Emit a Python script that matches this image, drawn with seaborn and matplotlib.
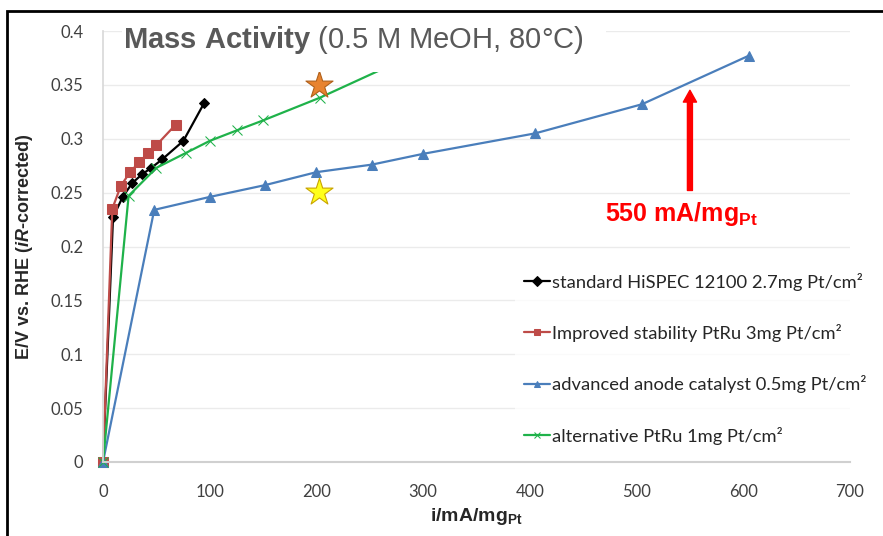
import matplotlib
matplotlib.use("Agg")
import matplotlib.pyplot as plt
import matplotlib.patches as mpatches
import seaborn as sns

# values
std_x = [0, 9.4, 18.4, 27.5, 36.6, 45.3, 55.6, 75.3, 94.7]
std_y = [0, 0.227, 0.246, 0.259, 0.267, 0.273, 0.281, 0.298, 0.333]
red_x = [0, 8.7, 16.6, 25.3, 33.8, 42.5, 50, 68]
red_y = [0, 0.235, 0.256, 0.269, 0.278, 0.287, 0.294, 0.313]
blue_x = [0, 48, 100, 152, 200, 252, 300, 405, 505, 605]
blue_y = [0, 0.234, 0.246, 0.257, 0.269, 0.276, 0.286, 0.305, 0.332, 0.377]
green_x = [0, 24, 50, 78, 100, 126, 150, 203, 300]
green_y = [0, 0.247, 0.273, 0.287, 0.298, 0.308, 0.317, 0.338, 0.382]

labels = ["standard HiSPEC 12100 2.7mg Pt/cm²",
          "Improved stability PtRu 3mg Pt/cm²",
          "advanced anode catalyst 0.5mg Pt/cm²",
          "alternative PtRu 1mg Pt/cm²"]

star_x = [202, 202]
star_y = [0.350, 0.251]
target_x = 550
arrow_y = [0.252, 0.345]

x_ticks = [0, 100, 200, 300, 400, 500, 600, 700]
y_ticks = [0, 0.05, 0.1, 0.15, 0.2, 0.25, 0.3, 0.35, 0.4]
y_ticklabels = ["0", "0.05", "0.1", "0.15", "0.2", "0.25", "0.3", "0.35", "0.4"]

sns.set_theme(style="white")
plt.rcParams["font.family"] = ["Liberation Sans", "DejaVu Sans"]
plt.rcParams["mathtext.fontset"] = "custom"
plt.rcParams["mathtext.rm"] = "Liberation Sans"
plt.rcParams["mathtext.bf"] = "Liberation Sans:bold"
plt.rcParams["mathtext.it"] = "Liberation Sans:bold:italic"

fig = plt.figure(figsize=(8.83, 5.36), dpi=100)
ax = fig.add_axes([103 / 883, 74 / 536, 747 / 883, 431 / 536])

series = [
    (std_x, std_y, "black", "D", 5.5),
    (red_x, red_y, "#be4b48", "s", 7),
    (blue_x, blue_y, "#4a7ebb", "^", 7),
    (green_x, green_y, "#1fb24a", "x", 7),
]
for (xs, ys, col, mk, ms), lab in zip(series, labels):
    sns.lineplot(x=xs, y=ys, ax=ax, sort=False, estimator=None, color=col,
                 marker=mk, markersize=ms, markeredgecolor=col,
                 markerfacecolor=col, linewidth=1.6, label=lab, clip_on=False)

# highlight stars
sns.scatterplot(x=star_x[:1], y=star_y[:1], ax=ax, marker="*", s=420,
                color="#e8832f", edgecolor="#b0601a", linewidth=0.8, zorder=5)
sns.scatterplot(x=star_x[1:], y=star_y[1:], ax=ax, marker="*", s=420,
                color="#ffff1a", edgecolor="#c9a400", linewidth=0.8, zorder=5)

ax.annotate("", xy=(target_x, arrow_y[1]), xytext=(target_x, arrow_y[0]),
            arrowprops=dict(facecolor="red", edgecolor="red", width=3.6,
                            headwidth=9.5, headlength=8.5, shrink=0))
ax.text(target_x - 8, 0.230, r"550 mA/mg$_\mathbf{Pt}$", color="red",
        fontsize=18, fontweight="bold", ha="center", va="center")

ax.set_xlim(0, 700)
ax.set_ylim(0, 0.4)
ax.set_xticks(x_ticks)
ax.set_yticks(y_ticks)
ax.set_yticklabels(y_ticklabels)
ax.tick_params(axis="both", length=0, labelsize=12, labelcolor="#404040")
ax.tick_params(axis="x", pad=16)
ax.tick_params(axis="y", pad=14)
for t in ax.get_xticklabels() + ax.get_yticklabels():
    t.set_fontfamily("Lato")
ax.yaxis.grid(True, color="#ebebeb", linewidth=1)
ax.xaxis.grid(False)
for s in ["top", "right"]:
    ax.spines[s].set_visible(False)
ax.spines["left"].set_color("#d9d9d9")
ax.spines["bottom"].set_color("#d0d0d0")
ax.spines["bottom"].set_linewidth(1.5)

ax.set_xlabel(r"i/mA/mg$_\mathbf{Pt}$", fontsize=14, fontweight="bold",
              color="#262626")
ax.xaxis.set_label_coords(0.5, -0.103)
ax.set_ylabel(r"E/V vs. RHE ($\mathit{iR}$-corrected)", fontsize=13,
              fontweight="bold", color="#262626")
ax.yaxis.set_label_coords(-0.091, 0.5)

leg = ax.legend(loc="center left", bbox_to_anchor=(412 / 747, 0.24),
                borderaxespad=0, frameon=True, fancybox=False,
                prop={"family": "Lato", "size": 13.2},
                handlelength=1.4, handletextpad=0.1, labelspacing=1.82,
                borderpad=0.5)
leg.get_frame().set_facecolor("white")
leg.get_frame().set_edgecolor("none")
for h in leg.get_lines():
    h.set_markersize(5)

# white title box covering the top of the plot
ax.add_patch(mpatches.Rectangle((19 / 747, 390 / 431), 484 / 747, 0.2,
                                transform=ax.transAxes, facecolor="white",
                                edgecolor="none", zorder=6, clip_on=False))
fig.text(123 / 883, 1 - 48 / 536, r"$\mathbf{Mass\ Activity}$ (0.5 M MeOH, 80°C)",
         fontsize=21, color="#595959", ha="left", va="baseline", zorder=7)

# outer border of the slide box
fig.add_artist(mpatches.Rectangle((7 / 883, -0.1), 1.2, 1.1 - 11 / 536,
                                  transform=fig.transFigure, fill=False,
                                  edgecolor="black", linewidth=2))

fig.savefig("out.png", dpi=100)
